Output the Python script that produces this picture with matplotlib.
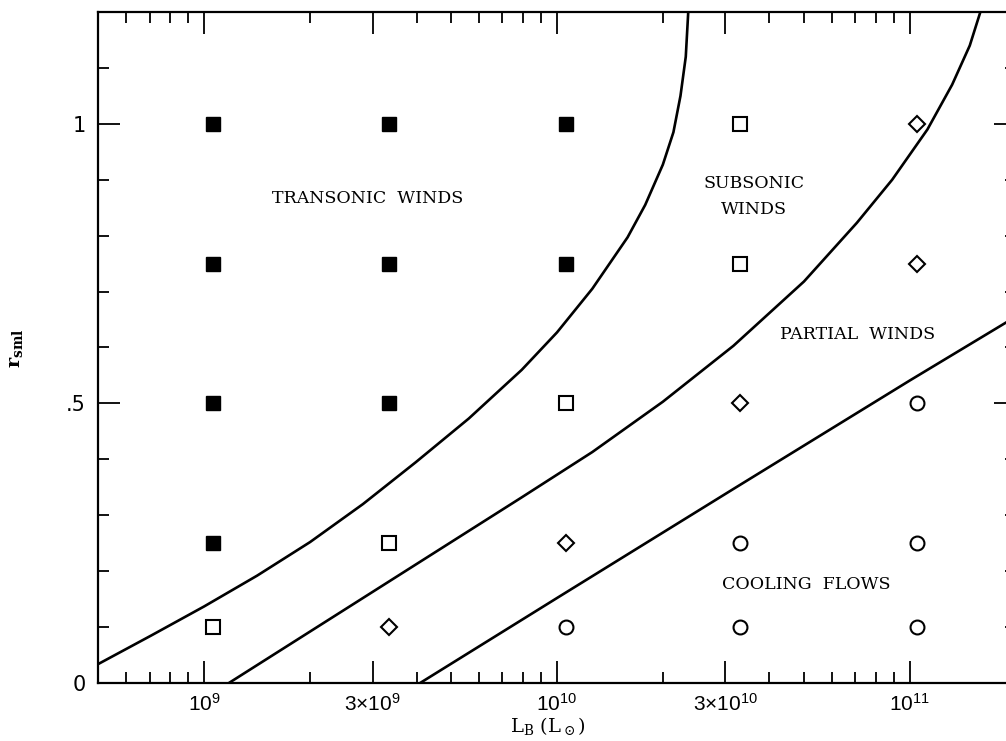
import numpy as np
import matplotlib
matplotlib.use("Agg")
import matplotlib.pyplot as plt
from matplotlib.ticker import FixedLocator, FixedFormatter, NullFormatter

plt.rcParams['mathtext.fontset'] = 'custom'
plt.rcParams['mathtext.rm'] = 'Liberation Sans'
plt.rcParams['mathtext.it'] = 'Liberation Sans:italic'
plt.rcParams['mathtext.bf'] = 'Liberation Sans:bold'

# ---- data ----
L_models = [1.06e9, 3.35e9, 1.06e10, 3.3e10, 1.05e11]
r_models = [1.0, 0.75, 0.5, 0.25, 0.1]
# regime for each r (rows) and L (columns): T transonic, S subsonic, P partial, C cooling
regime = [
    ['T', 'T', 'T', 'S', 'P'],
    ['T', 'T', 'T', 'S', 'P'],
    ['T', 'T', 'S', 'P', 'C'],
    ['T', 'S', 'P', 'C', 'C'],
    ['S', 'P', 'C', 'C', 'C'],
]

# boundary curves: log10(L_B) and r_sml
b1_logL = [8.694, 8.85, 9.0, 9.15, 9.3, 9.45, 9.6, 9.75, 9.9, 10.0, 10.1, 10.2,
           10.25, 10.3, 10.33, 10.35, 10.365, 10.372]
b1_r    = [0.032, 0.085, 0.137, 0.192, 0.252, 0.320, 0.395, 0.473, 0.560, 0.627,
           0.705, 0.797, 0.855, 0.927, 0.985, 1.050, 1.120, 1.200]
b2_logL = [9.07, 9.3, 9.5, 9.7, 9.9, 10.1, 10.3, 10.5, 10.7, 10.85, 10.95, 11.05,
           11.12, 11.17, 11.20]
b2_r    = [0.0, 0.092, 0.172, 0.252, 0.332, 0.413, 0.503, 0.603, 0.718, 0.823,
           0.900, 0.990, 1.070, 1.140, 1.200]
b3_logL = [9.612, 10.0, 10.5, 11.0, 11.30]
b3_r    = [0.0, 0.152, 0.347, 0.541, 0.655]

x_major = [1e9, 3e9, 1e10, 3e10, 1e11]
x_major_labels = [r'$10^{9}$', r'$3{\times}10^{9}$', r'$10^{10}$', r'$3{\times}10^{10}$', r'$10^{11}$']
x_minor = [6e8, 7e8, 8e8, 9e8, 2e9, 4e9, 5e9, 6e9, 7e9, 8e9, 9e9, 2e10,
           4e10, 5e10, 6e10, 7e10, 8e10, 9e10]
y_major = [0, 0.5, 1.0]
y_major_labels = ['0', '.5', '1']
y_minor = [0.1, 0.2, 0.3, 0.4, 0.6, 0.7, 0.8, 0.9, 1.1]

# ---- figure ----
W, H = 1006, 741
fig = plt.figure(figsize=(W / 100, H / 100), dpi=100)
ax = fig.add_axes([98 / W, 58 / H, 918 / W, 671 / H])
ax.set_xscale('log')
ax.set_xlim(5e8, 2e11)
ax.set_ylim(0, 1.2)

for lx, ry in [(b1_logL, b1_r), (b2_logL, b2_r), (b3_logL, b3_r)]:
    ax.plot(10 ** np.array(lx), ry, color='black', lw=1.9, solid_joinstyle='round',
            solid_capstyle='butt', clip_on=True)

style = {
    'T': dict(marker='s', ms=10.5, mfc='black', mec='black', mew=1.0),
    'S': dict(marker='s', ms=10.5, mfc='white', mec='black', mew=1.5),
    'P': dict(marker='D', ms=8, mfc='white', mec='black', mew=1.5),
    'C': dict(marker='o', ms=10, mfc='white', mec='black', mew=1.5),
}
for i, r in enumerate(r_models):
    for j, L in enumerate(L_models):
        ax.plot([L], [r], ls='none', zorder=3, **style[regime[i][j]])

# ticks
ax.xaxis.set_major_locator(FixedLocator(x_major))
ax.xaxis.set_major_formatter(FixedFormatter(x_major_labels))
ax.xaxis.set_minor_locator(FixedLocator(x_minor))
ax.xaxis.set_minor_formatter(NullFormatter())
ax.yaxis.set_major_locator(FixedLocator(y_major))
ax.yaxis.set_major_formatter(FixedFormatter(y_major_labels))
ax.yaxis.set_minor_locator(FixedLocator(y_minor))
ax.tick_params(which='both', direction='in', top=True, right=True, color='black')
ax.tick_params(which='major', length=16, width=1.3, labelsize=15, pad=7)
ax.tick_params(which='minor', length=8, width=1.3)
ax.tick_params(axis='y', which='major', pad=9)
for s in ax.spines.values():
    s.set_linewidth(1.6)

serif = 'DejaVu Serif'
tkw = dict(family=serif, fontsize=12.5, ha='center', va='baseline')
ax.text(2.9e9, 0.859, 'TRANSONIC  WINDS', **tkw)
ax.text(3.61e10, 0.886, 'SUBSONIC', **tkw)
ax.text(3.61e10, 0.839, 'WINDS', **tkw)
ax.text(7.13e10, 0.615, 'PARTIAL  WINDS', **tkw)
ax.text(5.1e10, 0.168, 'COOLING  FLOWS', **tkw)

fig.text(548 / W, 1 - 732 / H, r'L$_\mathrm{B}$ (L$_\odot$)', family='DejaVu Serif', fontsize=14,
         ha='center', va='baseline', math_fontfamily='dejavuserif')
fig.text(16 / W, 1 - 348 / H, r'$\mathbf{r}_\mathbf{sml}$', fontsize=14, rotation=90,
         ha='center', va='center', math_fontfamily='dejavuserif')

fig.savefig('out.png', dpi=100)
